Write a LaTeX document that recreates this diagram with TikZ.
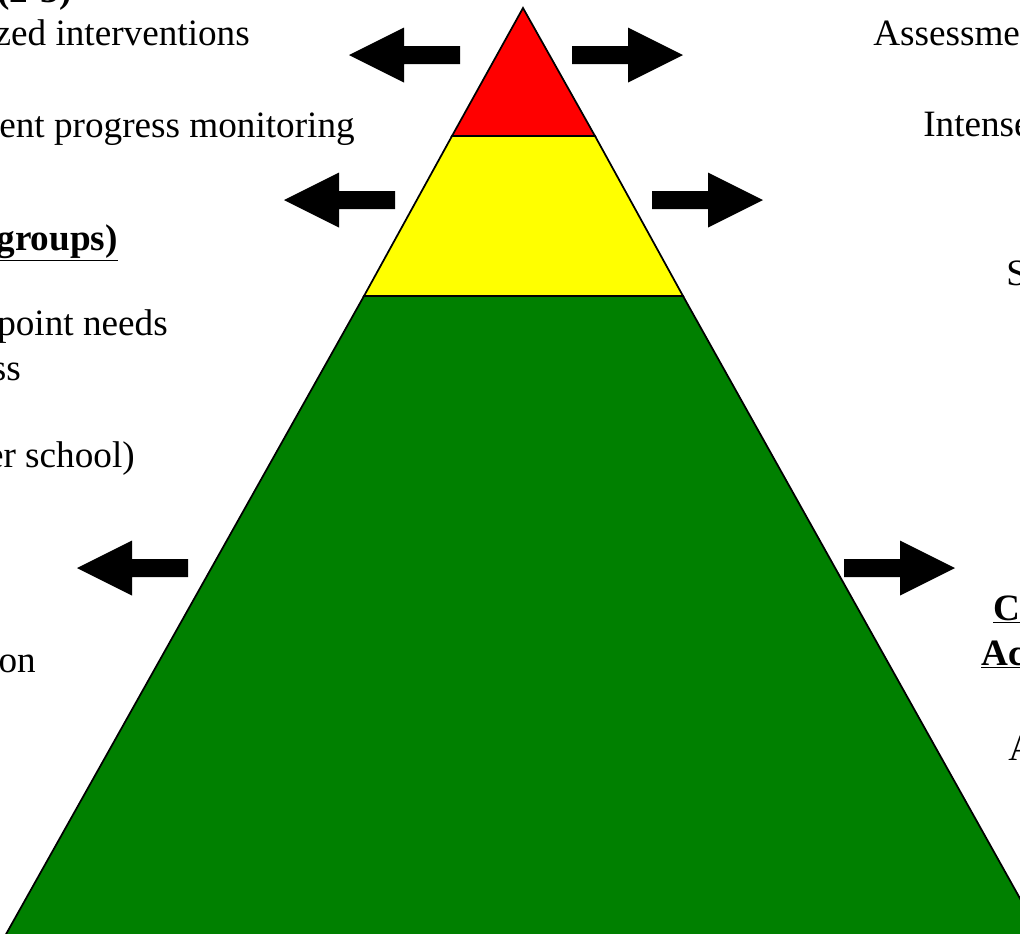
\documentclass[tikz,border=0pt]{standalone}
\usepackage{fontspec}
\setmainfont{Liberation Serif}
\begin{document}
\begin{tikzpicture}[x=0.75pt,y=-0.75pt,
    txt/.style={inner sep=0pt,font=\fontsize{27.9}{33}\selectfont},
    tier/.style={draw=black,line width=1.3pt,line join=miter},
    blockarr/.pic={\fill[black] (0,-9) -- (56,-9) -- (56,-27.5) -- (111,0) -- (56,27.5) -- (56,9) -- (0,9) -- cycle;}]
    \definecolor{tier_red}{RGB}{255,0,0}
    \definecolor{tier_yellow}{RGB}{255,255,0}
    \definecolor{tier_green}{RGB}{0,128,0}
    \useasboundingbox (0,0) rectangle (1020,933);
    \clip (0,0) rectangle (1020,933);
    % pyramid corners
    \coordinate (apex) at (523,8);
    \coordinate (redL) at (452,136);
    \coordinate (redR) at (595,136);
    \coordinate (yelL) at (364,296);
    \coordinate (yelR) at (683,296);
    \coordinate (baseL) at (5,936);
    \coordinate (baseR) at (1041,936);
    \path[tier,fill=tier_green]  (yelL) -- (yelR) -- (baseR) -- (baseL) -- cycle;
    \path[tier,fill=tier_yellow] (redL) -- (redR) -- (yelR) -- (yelL) -- cycle;
    \path[tier,fill=tier_red]    (apex) -- (redR) -- (redL) -- cycle;
    % arrows
    \pic[rotate=180] (arrTopL) at (460,55) {blockarr};
    \pic (arrTopR) at (572,55) {blockarr};
    \pic[rotate=180] (arrMidL) at (395,200) {blockarr};
    \pic (arrMidR) at (652,200) {blockarr};
    \pic[rotate=180] (arrLowL) at (188,568) {blockarr};
    \pic (arrLowR) at (844,568) {blockarr};
    % left text
    \node[txt,anchor=base east] (tierNum)   at (72,2)    {\textbf{(2-3)}};
    \node[txt,anchor=base east] (interv)    at (250,45)  {zed interventions};
    \node[txt,anchor=base east] (progMon)   at (355,137) {ent progress monitoring};
    \node[txt,anchor=base east] (groupHead) at (118,250) {\textbf{\underline{groups)}}};
    \node[txt,anchor=base east] (needs)     at (168,335) {point needs};
    \node[txt,anchor=base east] (ssLine)    at (21,380)  {ss};
    \node[txt,anchor=base east] (school)    at (135,467) {er school)};
    \node[txt,anchor=base east] (onLine)    at (36,672)  {on};
    % right text
    \node[txt,anchor=base west] (assess)    at (873,45)  {Assessme};
    \node[txt,anchor=base west] (intense)   at (923,136) {Intense};
    \node[txt,anchor=base west] (sLine)     at (1006,285) {S};
    \node[txt,anchor=base west] (cHead)     at (993,620) {\textbf{\underline{C}}};
    \node[txt,anchor=base west] (acHead)    at (981,665) {\textbf{\underline{Ac}}};
    \node[txt,anchor=base west] (aLine)     at (1008,760) {A};
\end{tikzpicture}
\end{document}
